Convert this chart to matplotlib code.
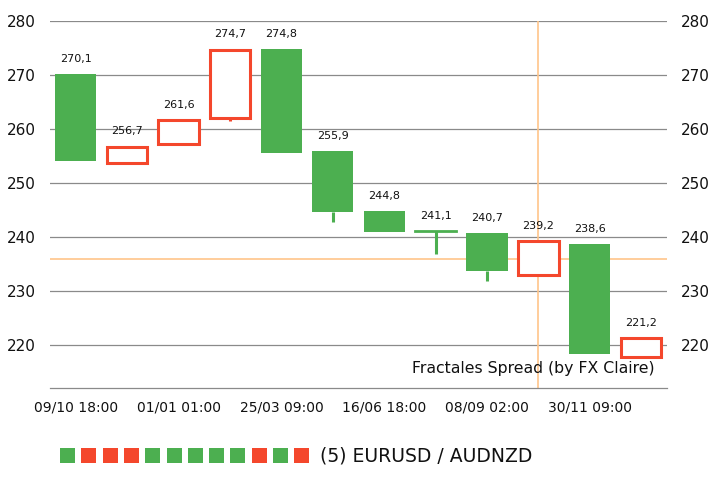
import matplotlib
matplotlib.use("Agg")
import matplotlib.pyplot as plt
from matplotlib.patches import Rectangle

# ---- data ----
dates = ["09/10 18:00", "", "01/01 01:00", "", "25/03 09:00", "", "16/06 18:00", "",
         "08/09 02:00", "", "30/11 09:00", ""]
opens  = [270.1, 253.7, 257.3, 262.0, 274.8, 255.9, 244.8, 241.1, 240.7, 233.0, 238.6, 217.8]
closes = [254.0, 256.7, 261.6, 274.7, 255.6, 244.6, 240.9, 241.1, 233.6, 239.2, 218.3, 221.2]
highs  = [270.1, 256.7, 261.6, 274.7, 274.8, 255.9, 244.8, 241.1, 240.7, 239.2, 238.6, 221.2]
lows   = [254.0, 253.7, 257.3, 261.4, 255.6, 242.8, 240.9, 236.8, 231.9, 233.0, 218.3, 217.8]
cross_x = 9
cross_y = 235.9
legend_label = "(5) EURUSD / AUDNZD"
watermark = "Fractales Spread (by FX Claire)"
yticks = [220, 230, 240, 250, 260, 270, 280]

GREEN = "#4caf50"
RED = "#f4472c"

fig = plt.figure(figsize=(7.18, 4.80), dpi=100)
ax = fig.add_axes([50/718, (480-388)/480, (667-50)/718, (388-21)/480])

w = 0.8
for i, (o, h, l, c) in enumerate(zip(opens, highs, lows, closes)):
    up = c > o
    col = RED if up else GREEN
    top, bot = max(o, c), min(o, c)
    if l < bot - 0.05:
        ax.plot([i, i], [l, bot], color=col, lw=2.2, solid_capstyle="butt", zorder=2)
    if abs(o - c) < 0.3:
        ax.plot([i - w/2, i + w/2], [o, o], color=col, lw=2.0, zorder=3)
    elif up:
        ax.add_patch(Rectangle((i - w/2 + 0.01, bot), w - 0.02, top - bot, facecolor="white",
                               edgecolor=col, lw=2.2, zorder=3))
    else:
        ax.add_patch(Rectangle((i - w/2, bot), w, top - bot, facecolor=col,
                               edgecolor="none", zorder=3))
    ax.annotate(f"{h:.1f}".replace(".", ","), (i, top), xytext=(0, 11),
                textcoords="offset points", ha="center", va="center",
                fontsize=8, color="#111111")

ax.axvline(cross_x, color="#ffc58a", lw=1.2, zorder=1)
ax.axhline(cross_y, color="#ffc58a", lw=1.2, zorder=1)

ax.set_xlim(-0.5, 11.5)
ax.set_ylim(212, 280)
ax.set_yticks(yticks)
ax.set_xticks(range(len(dates)))
ax.set_xticklabels(dates, fontsize=10, color="#111111")
ax.grid(axis="y", color="#8a8a8a", lw=0.9)
ax.set_axisbelow(True)
for s in ["top", "left", "right"]:
    ax.spines[s].set_visible(False)
ax.spines["bottom"].set_color("#8a8a8a")
ax.spines["bottom"].set_linewidth(0.9)
ax.tick_params(axis="y", length=0, pad=10, labelsize=11, labelright=True, labelcolor="#111111")
ax.tick_params(axis="x", length=0, pad=9)

ax.text(655/718, (480-369)/480, watermark, transform=fig.transFigure, ha="right",
        va="center", fontsize=11.3, color="#111111")

# legend squares
cols = [RED if c > o else GREEN for o, c in zip(opens, closes)]
for k, col in enumerate(cols):
    x0 = 60 + k * 21.3
    fig.patches.append(Rectangle((x0/718, (480-463)/480), 15/718, 15/480,
                                 transform=fig.transFigure, facecolor=col, edgecolor="none"))
fig.text(320/718, (480-456)/480, legend_label, ha="left", va="center",
         fontsize=13.5, color="#111111")

fig.savefig("out.png", dpi=100)
